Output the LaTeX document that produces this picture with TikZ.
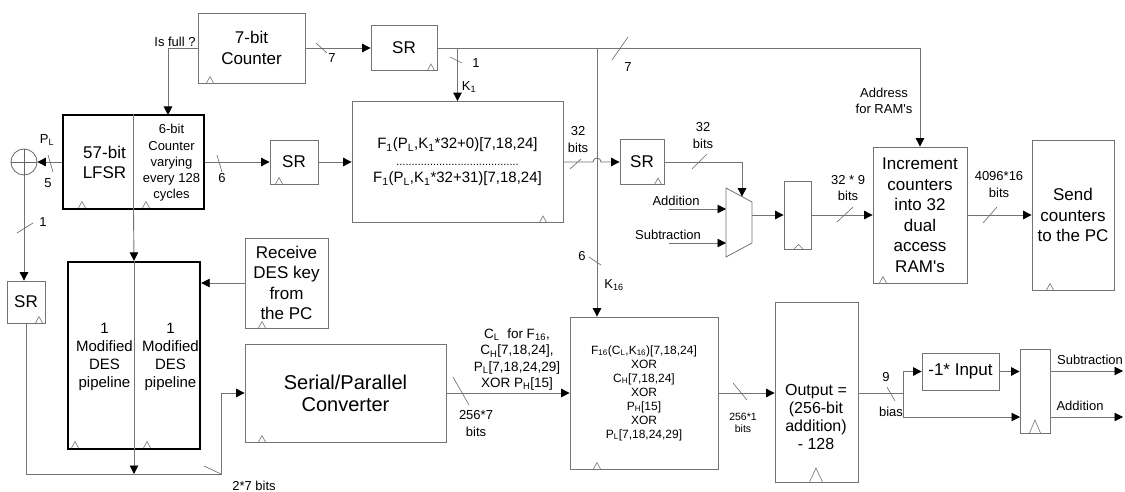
\documentclass[tikz,border=0pt]{standalone}
\usepackage{fontspec}
\setmainfont{Liberation Sans}
\usetikzlibrary{arrows.meta}

\newcommand{\blockfont}{\fontsize{17}{20.5}\selectfont}
\newcommand{\desfont}{\fontsize{15}{18}\selectfont}
\newcommand{\funcfont}{\fontsize{15}{17}\selectfont}
\newcommand{\xorfont}{\fontsize{12}{14}\selectfont}
\newcommand{\labelfont}{\fontsize{13}{16.5}\selectfont}
\newcommand{\tinylabelfont}{\fontsize{10.5}{12}\selectfont}

\tikzset{
  blk/.style={draw=black!55, line width=0.8pt, inner sep=0pt, align=center},
  thk/.style={draw=black, line width=2.4pt, inner sep=0pt},
  wire/.style={black!55, line width=0.9pt},
  busmark/.style={black!60, line width=0.6pt},
  clk/.style={black!55, line width=0.6pt},
  lbl/.style={font=\labelfont, inner sep=0pt, align=center}
}

\begin{document}
\begin{tikzpicture}[x=1pt, y=-1pt, >={Triangle[length=8.5pt,width=8.5pt,color=black]}]
\useasboundingbox (0,0) rectangle (1125,492);

% Top row of blocks
\node[blk, minimum width=107, minimum height=70, font=\blockfont] (cnt7) at (251.5,48) {7-bit\\Counter};
\node[blk, minimum width=66, minimum height=45, font=\blockfont] (srA) at (404,48) {SR};
\node[blk, minimum width=48, minimum height=44, font=\blockfont] (srB) at (294,162) {SR};
\node[blk, minimum width=211, minimum height=121, font=\funcfont] (f1) at (457.5,162)
  {F\textsubscript{1}(P\textsubscript{L},K\textsubscript{1}*32+0)[7,18,24]\\
   {\fontsize{11}{11}\selectfont ........................................}\\
   F\textsubscript{1}(P\textsubscript{L},K\textsubscript{1}*32+31)[7,18,24]};
\node[blk, minimum width=44, minimum height=45, font=\blockfont] (srC) at (642,162) {SR};
\node[blk, minimum width=27, minimum height=68] (regA) at (797.5,215) {};
\node[blk, minimum width=94, minimum height=136, font=\blockfont] (incr) at (920,215)
  {Increment\\counters\\into 32\\dual\\access\\RAM\textquotesingle s};
\node[blk, minimum width=82, minimum height=150, font=\blockfont] (send) at (1073,215)
  {Send\\counters\\to the PC};

% LFSR with its 6-bit counter (thick frame)
\node[thk, minimum width=141, minimum height=94] (lfsr) at (133.5,162) {};
\draw[black!55, line width=0.8pt] (lfsr.north) -- (lfsr.south);
\node[font=\blockfont, align=center, inner sep=0pt] (lfsrtxt) at (104.5,162.5) {57-bit\\LFSR};
\node[font=\fontsize{13}{16.3}\selectfont, align=center, inner sep=0pt] (ctr6txt) at (171.5,163)
  {6-bit\\Counter\\varying\\every 128\\cycles};

% XOR and left shift register
\node[draw=black!60, line width=0.8pt, circle, minimum size=26, inner sep=0pt] (xr) at (24,162) {};
\draw[black!60, line width=0.8pt] (xr.north) -- (xr.south) (xr.west) -- (xr.east);
\node[blk, minimum width=38, minimum height=42, font=\blockfont] (srD) at (26,302) {SR};

% DES pipelines (thick frame)
\node[thk, minimum width=132, minimum height=187] (des) at (134,355.5) {};
\node[font=\desfont, align=center, inner sep=0pt] (desL) at (104.5,357) {1\\Modified\\DES\\pipeline};
\node[font=\desfont, align=center, inner sep=0pt] (desR) at (170.5,357) {1\\Modified\\DES\\pipeline};

% Bottom row of blocks
\node[blk, minimum width=83, minimum height=90, font=\blockfont] (rcv) at (286.5,283)
  {Receive\\DES key\\from\\the PC};
\node[blk, minimum width=201, minimum height=98, font=\fontsize{20}{22}\selectfont] (sp) at (345.5,393)
  {Serial/Parallel\\Converter};
\node[blk, minimum width=148, minimum height=152, font=\xorfont] (f16) at (644,393)
  {F\textsubscript{16}(C\textsubscript{L},K\textsubscript{16})[7,18,24]\\XOR\\C\textsubscript{H}[7,18,24]\\XOR\\
   P\textsubscript{H}[15]\\XOR\\P\textsubscript{L}[7,18,24,29]};
\node[blk, minimum width=83, minimum height=180] (out) at (816.5,392) {};
\node[font=\fontsize{16}{18.3}\selectfont, align=center, inner sep=0pt] (outtxt) at (816,417)
  {Output =\\(256-bit\\addition)\\- 128};
\node[blk, minimum width=77, minimum height=37, font=\blockfont] (neg) at (960.5,371.5) {-1* Input};
\node[blk, minimum width=30, minimum height=84] (regB) at (1035,391) {};

% Multiplexer
\draw[black!55, line width=0.8pt] (726,188) -- (752,202) -- (752,243) -- (726,257) -- cycle;
\coordinate (muxin) at (742,196.6);
\coordinate (muxA) at (726,209);
\coordinate (muxS) at (726,243);
\coordinate (muxout) at (752,215);
\coordinate (addsrc) at (669,209);
\coordinate (subsrc) at (669,243);

% Clock marks
\foreach \x/\y in {210/83, 431/70.5, 82/208, 146/208, 279/184, 543/222.5, 658/184.5,
                   883/283, 1050/290, 39/323, 75/448, 147/448, 262/328, 262/442, 597/469} {
  \draw[clk] (\x-3.5,\y) -- (\x,\y-6.5) -- (\x+3.5,\y);
}
\draw[clk] (794,249) -- (798.5,244.5) -- (803,249);
\draw[clk] (809.5,482) -- (816,468) -- (822.5,482);
\draw[clk] (1029.5,433) -- (1035,420) -- (1040.5,433);

% Junction points
\coordinate (jfull) at (168,115);
\coordinate (bK16) at (597,48);
\coordinate (jsp) at (221,474);
\coordinate (jb) at (903,393);
\coordinate (inAdd) at (1020,417);
\coordinate (outSub) at (1123,371);
\coordinate (outAdd) at (1123,417);

% Connectors
\draw[wire,->] (cnt7.west) -| (jfull);
\draw[wire,->] (cnt7.east) -- (srA.west);
\draw[wire,->] (srA.east) -| (incr.north);
\draw[wire,->] (f1.north |- srA.east) -- (f1.north);
\draw[wire,->] (bK16) -- (bK16 |- f16.north);
\draw[wire,->] (lfsr.west) -- (xr.east);
\draw[wire,->] (lfsr.east) -- (srB.west);
\draw[wire,->] (srB.east) -- (f1.west);
\draw[wire,->] (f1.east) -- (593,162) arc (180:360:4) -- (srC.west);
\draw[wire,->] (srC.east) -| (muxin);
\draw[wire,->] (addsrc) -- (muxA);
\draw[wire,->] (subsrc) -- (muxS);
\draw[wire,->] (muxout) -- (regA.west);
\draw[wire,->] (regA.east) -- (incr.west);
\draw[wire,->] (incr.east) -- (send.west);
\draw[wire,->] (xr.south) -- (xr.south |- srD.north);
\draw[wire,->] (lfsr.south) -- (des.north);
\draw[black!55, line width=0.8pt] (des.north) -- (des.south);
\draw[wire,->] (des.south) -- (des.south |- jsp);
\draw[wire,->] (srD.south) |- (jsp) |- (sp.west);
\draw[wire,->] (rcv.west) -- (rcv.west -| des.east);
\draw[wire,->] (sp.east) -- (f16.west);
\draw[wire,->] (f16.east) -- (f16.east -| out.west);
\draw[wire] (out.east |- jb) -- (jb);
\draw[wire,->] (jb) |- (neg.west);
\draw[wire,->] (jb) |- (inAdd);
\draw[wire,->] (neg.east) -- (neg.east -| regB.west);
\draw[wire,->] (outSub -| regB.east) -- (outSub);
\draw[wire,->] (outAdd -| regB.east) -- (outAdd);

% Bus width marks
\foreach \a/\b/\c/\d in {48/155/53/172, 217/155/222/172, 316/43/327/53, 612/60/628/37,
                         450/57/462/63, 589/257/601/265, 570/169/581/159, 692/169/707/154,
                         837/222/853/207, 983/223/997/207, 17/233/33/223, 204/466/221/474,
                         453/377/469/405, 733/383/747/400, 887/387/895/401} {
  \draw[busmark] (\a,\b) -- (\c,\d);
}

% Labels
\node[lbl] (lfull) at (175,42) {Is full ?};
\node[lbl] (lseven) at (332,58) {7};
\node[lbl] (lsevenB) at (628,67) {7};
\node[lbl] (lone) at (476,63) {1};
\node[lbl] (lkone) at (469,87) {K\textsubscript{1}};
\node[lbl] (lsix) at (582,256) {6};
\node[lbl] (lksix) at (614,285) {K\textsubscript{16}};
\node[lbl] (lpl) at (47,140) {P\textsubscript{L}};
\node[lbl] (lfive) at (48,183) {5};
\node[lbl] (lsixB) at (222,178) {6};
\node[lbl] (lbitsA) at (578,139.5) {32\\bits};
\node[lbl] (lbitsB) at (703,135.5) {32\\bits};
\node[lbl] (ladd) at (676,201) {Addition};
\node[lbl] (lsub) at (668,235) {Subtraction};
\node[lbl] (lbitsC) at (848,188) {32 * 9\\bits};
\node[lbl] (laddr) at (884,101) {Address\\for RAM\textquotesingle s};
\node[lbl] (lbitsD) at (999,184.5) {4096*16\\bits};
\node[lbl] (loneB) at (43,222) {1};
\node[lbl] (lbitsE) at (254,486) {2*7 bits};
\node[lbl, font=\fontsize{13.5}{16.2}\selectfont] (lcl) at (517,359.5)
  {C\textsubscript{L}\ \ for F\textsubscript{16},\\C\textsubscript{H}[7,18,24],\\P\textsubscript{L}[7,18,24,29]\\XOR P\textsubscript{H}[15]};
\node[lbl] (lbitsF) at (476,423.5) {256*7\\bits};
\node[lbl, font=\tinylabelfont] (lbitsG) at (743,423) {256*1\\bits};
\node[lbl] (lnine) at (886,377) {9};
\node[lbl] (lbias) at (891,412) {bias};
\node[lbl] (lsubB) at (1090,360) {Subtraction};
\node[lbl] (laddB) at (1080,406) {Addition};

\end{tikzpicture}
\end{document}
